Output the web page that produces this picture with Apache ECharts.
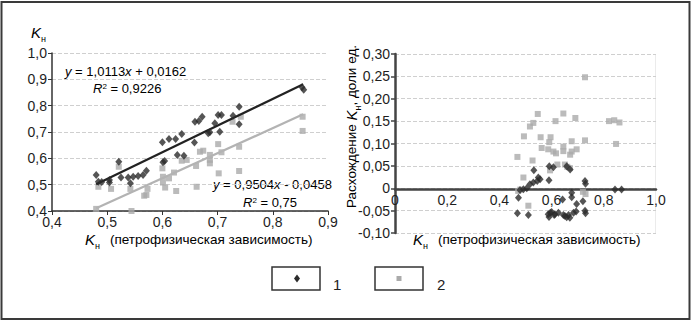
<!DOCTYPE html>
<html><head><meta charset="utf-8">
<script src="https://cdn.jsdelivr.net/npm/echarts@6/dist/echarts.min.js"></script>
<style>html,body{margin:0;padding:0;background:#fff}#c{width:692px;height:323px}</style>
</head><body><div id="c"></div>
<script>
// Left chart: Kн (series 1 = diamonds, series 2 = squares) vs Kн (petrophysical)
const left1 = [[0.48,0.537],[0.484,0.511],[0.49,0.51],[0.504,0.508],[0.504,0.518],[0.521,0.587],[0.525,0.527],[0.538,0.527],[0.547,0.53],[0.556,0.533],[0.565,0.537],[0.571,0.553],[0.542,0.505],[0.601,0.585],[0.604,0.59],[0.6,0.661],[0.612,0.673],[0.624,0.673],[0.635,0.692],[0.627,0.613],[0.639,0.61],[0.658,0.66],[0.659,0.739],[0.666,0.742],[0.672,0.758],[0.683,0.695],[0.686,0.699],[0.695,0.733],[0.701,0.765],[0.707,0.765],[0.704,0.701],[0.728,0.762],[0.739,0.796],[0.739,0.729],[0.853,0.87],[0.856,0.86]];
const left2 = [[0.48,0.408],[0.484,0.492],[0.507,0.484],[0.521,0.568],[0.542,0.484],[0.544,0.4],[0.567,0.458],[0.571,0.461],[0.573,0.484],[0.6,0.562],[0.601,0.53],[0.601,0.508],[0.605,0.489],[0.612,0.524],[0.621,0.546],[0.625,0.476],[0.635,0.591],[0.644,0.594],[0.661,0.571],[0.662,0.492],[0.668,0.625],[0.674,0.629],[0.686,0.613],[0.686,0.594],[0.686,0.581],[0.701,0.654],[0.702,0.543],[0.707,0.623],[0.727,0.739],[0.739,0.644],[0.739,0.552],[0.742,0.758],[0.854,0.758],[0.854,0.704]];
const trend1 = [[0.48,0.502],[0.855,0.881]];
const trend2 = [[0.48,0.41],[0.855,0.767]];
// Right chart: discrepancy vs Kн (petrophysical)
const right1 = [[0.532,0.04],[0.591,0.049],[0.607,0.047],[0.658,0.049],[0.671,0.042],[0.549,0.024],[0.556,0.02],[0.545,0.016],[0.53,0.013],[0.517,0.009],[0.505,0.0],[0.59,0.018],[0.492,-0.002],[0.479,-0.004],[0.728,0.016],[0.73,0.01],[0.473,-0.021],[0.642,-0.025],[0.677,-0.01],[0.677,-0.02],[0.696,-0.035],[0.72,-0.029],[0.469,-0.056],[0.511,-0.06],[0.587,-0.058],[0.595,-0.055],[0.6,-0.053],[0.59,-0.064],[0.61,-0.06],[0.613,-0.058],[0.626,-0.055],[0.645,-0.06],[0.651,-0.062],[0.658,-0.065],[0.665,-0.06],[0.67,-0.066],[0.684,-0.055],[0.694,-0.052],[0.728,-0.05],[0.73,-0.056],[0.843,-0.003],[0.868,-0.003]];
const right2 = [[0.728,0.248],[0.547,0.166],[0.645,0.167],[0.691,0.157],[0.615,0.15],[0.53,0.146],[0.517,0.138],[0.494,0.116],[0.558,0.114],[0.596,0.114],[0.591,0.103],[0.677,0.105],[0.728,0.107],[0.562,0.09],[0.587,0.087],[0.607,0.082],[0.617,0.078],[0.645,0.093],[0.645,0.083],[0.677,0.082],[0.696,0.087],[0.671,0.075],[0.469,0.07],[0.527,0.062],[0.594,0.04],[0.622,0.053],[0.651,0.053],[0.66,0.048],[0.67,0.045],[0.492,0.024],[0.48,-0.003],[0.472,-0.006],[0.511,-0.039],[0.72,-0.008],[0.73,-0.013],[0.82,0.15],[0.84,0.152],[0.86,0.147],[0.847,0.099]];
const legendLabels = ['1','2'];

const F = '"Liberation Sans", Arial, sans-serif';
const DARK = '#2b2b2b', GRAY = '#aaaaaa';
const f1 = v => v.toFixed(1).replace('.', ',');
const fR = v => Math.abs(v) < 1e-9 ? '0' : v.toFixed(2).replace('.', ',');
const fRx = v => Math.abs(v) < 1e-9 ? '0' : v.toFixed(1).replace('.', ',');
const grid = { type: 'dashed', color: '#cfcfcf', width: 1 };
const lbl = { fontFamily: F, fontSize: 14, color: '#1e1e1e' };
const richK = {
  k: { fontFamily: F, fontSize: 15, fontStyle: 'italic', verticalAlign: 'top', lineHeight: 18, color: '#222' },
  s: { fontFamily: F, fontSize: 9, verticalAlign: 'bottom', lineHeight: 18, color: '#222' },
  t: { fontFamily: F, fontSize: 13.5, verticalAlign: 'top', lineHeight: 18, color: '#222' }
};
function eqRich(col) {
  return {
    i: { fontFamily: F, fontSize: 13, fontStyle: 'italic', color: col },
    n: { fontFamily: F, fontSize: 13, color: col },
    sup: { fontFamily: F, fontSize: 8, color: col, verticalAlign: 'top', lineHeight: 13 }
  };
}

const chart = echarts.init(document.getElementById('c'), null, { renderer: 'svg' });
chart.setOption({
  animation: false,
  grid: [
    { left: 52, top: 53, width: 276, height: 158 },
    { left: 395, top: 54, width: 261, height: 179 },
    { left: 395, top: 54, width: 261, height: 135 }
  ],
  xAxis: [
    { gridIndex: 0, type: 'value', min: 0.4, max: 0.9, interval: 0.1,
      axisLine: { lineStyle: { color: '#333', width: 1.5 } },
      axisTick: { show: true, length: 4, lineStyle: { color: '#333' } },
      axisLabel: Object.assign({ formatter: f1, margin: 4 }, lbl),
      splitLine: { show: false } },
    { gridIndex: 1, type: 'value', min: 0, max: 1.0, interval: 0.2,
      axisLine: { show: false }, axisTick: { show: false }, axisLabel: { show: false },
      splitLine: { show: false } },
    { gridIndex: 2, type: 'value', min: 0, max: 1.0, interval: 0.2,
      axisLine: { show: true, onZero: false, lineStyle: { color: '#444', width: 2.5 } },
      axisTick: { show: false },
      axisLabel: Object.assign({ formatter: fRx, margin: 4 }, lbl),
      splitLine: { show: false } }
  ],
  yAxis: [
    { gridIndex: 0, type: 'value', min: 0.4, max: 1.0, interval: 0.1,
      axisLine: { show: true, lineStyle: { color: '#333', width: 1.5 } },
      axisTick: { show: true, length: 4, lineStyle: { color: '#333' } },
      axisLabel: Object.assign({ formatter: f1, margin: 5 }, lbl),
      splitLine: { show: true, lineStyle: grid } },
    { gridIndex: 1, type: 'value', min: -0.1, max: 0.3, interval: 0.05,
      axisLine: { show: true, onZero: false, lineStyle: { color: '#444', width: 2.5 } },
      axisTick: { show: true, length: 4, lineStyle: { color: '#444', width: 1.5 } },
      axisLabel: Object.assign({ formatter: fR, margin: 5 }, lbl),
      splitLine: { show: true, lineStyle: grid } },
    { gridIndex: 2, type: 'value', min: 0, max: 0.3, interval: 0.05, show: false }
  ],
  series: [
    { type: 'line', xAxisIndex: 0, yAxisIndex: 0, data: trend1, showSymbol: false, symbol: 'none',
      lineStyle: { color: '#222', width: 2.2 }, z: 3 },
    { type: 'line', xAxisIndex: 0, yAxisIndex: 0, data: trend2, showSymbol: false, symbol: 'none',
      lineStyle: { color: '#b3b3b3', width: 2.2 }, z: 3 },
    { type: 'scatter', xAxisIndex: 0, yAxisIndex: 0, data: left2, symbol: 'rect', symbolSize: 6,
      itemStyle: { color: GRAY }, z: 2 },
    { type: 'scatter', xAxisIndex: 0, yAxisIndex: 0, data: left1, symbol: 'diamond', symbolSize: [7, 8],
      itemStyle: { color: DARK }, z: 4 },
    { type: 'scatter', xAxisIndex: 1, yAxisIndex: 1, data: right2, symbol: 'rect', symbolSize: 6,
      itemStyle: { color: GRAY }, z: 2 },
    { type: 'scatter', xAxisIndex: 1, yAxisIndex: 1, data: right1, symbol: 'diamond', symbolSize: [7, 8],
      itemStyle: { color: DARK }, z: 4 }
  ],
  graphic: [
    { type: 'rect', shape: { x: 1.5, y: 2, width: 688, height: 317 }, style: { fill: 'none', stroke: '#3a3a3a', lineWidth: 2 }, silent: true },
    { type: 'rect', shape: { x: 655, y: 54, width: 0.5, height: 179 }, style: { fill: '#d8d8d8' }, silent: true },
    // axis titles
    { type: 'text', x: 31, y: 25, style: { text: '{k|K}{s|н}', rich: richK } },
    { type: 'text', x: 85, y: 232, style: { text: '{k|K}{s|н}', rich: richK } },
    { type: 'text', x: 110, y: 232, style: { text: '{t|(петрофизическая зависимость)}', rich: richK } },
    { type: 'text', x: 413, y: 232, style: { text: '{k|K}{s|н}', rich: richK } },
    { type: 'text', x: 438, y: 232, style: { text: '{t|(петрофизическая зависимость)}', rich: richK } },
    { type: 'text', x: 344, y: 208, rotation: Math.PI / 2,
      style: { text: '{t|Расхождение }{k|K}{s|н}{t|, доли ед.}', rich: richK } },
    // trend equations
    { type: 'text', x: 65, y: 65, style: { text: '{i|y}{n| = 1,0113}{i|x}{n| + 0,0162}', rich: eqRich('#222') } },
    { type: 'text', x: 93, y: 82, style: { text: '{i|R}{sup|2}{n| = 0,9226}', rich: eqRich('#222') } },
    { type: 'text', x: 213, y: 178, style: { text: '{i|y}{n| = 0,9504}{i|x}{n| - 0,0458}', rich: eqRich('#b8b8b8') } },
    { type: 'text', x: 243, y: 196, style: { text: '{i|R}{sup|2}{n| = 0,75}', rich: eqRich('#b8b8b8') } },
    // legend
    { type: 'rect', shape: { x: 272, y: 267, width: 48, height: 23 }, style: { fill: '#fff', stroke: '#333', lineWidth: 1.5 } },
    { type: 'rect', shape: { x: 375, y: 267, width: 48, height: 23 }, style: { fill: '#fff', stroke: '#333', lineWidth: 1.5 } },
    { type: 'polygon', shape: { points: [[297, 274.5], [300, 278.5], [297, 282.5], [294, 278.5]] }, style: { fill: DARK } },
    { type: 'rect', shape: { x: 396.5, y: 276, width: 5, height: 5 }, style: { fill: GRAY } },
    { type: 'text', x: 333, y: 277, style: { text: legendLabels[0], font: '15px ' + F, fill: '#222' } },
    { type: 'text', x: 437, y: 277, style: { text: legendLabels[1], font: '15px ' + F, fill: '#222' } }
  ]
});
</script>
</body></html>
